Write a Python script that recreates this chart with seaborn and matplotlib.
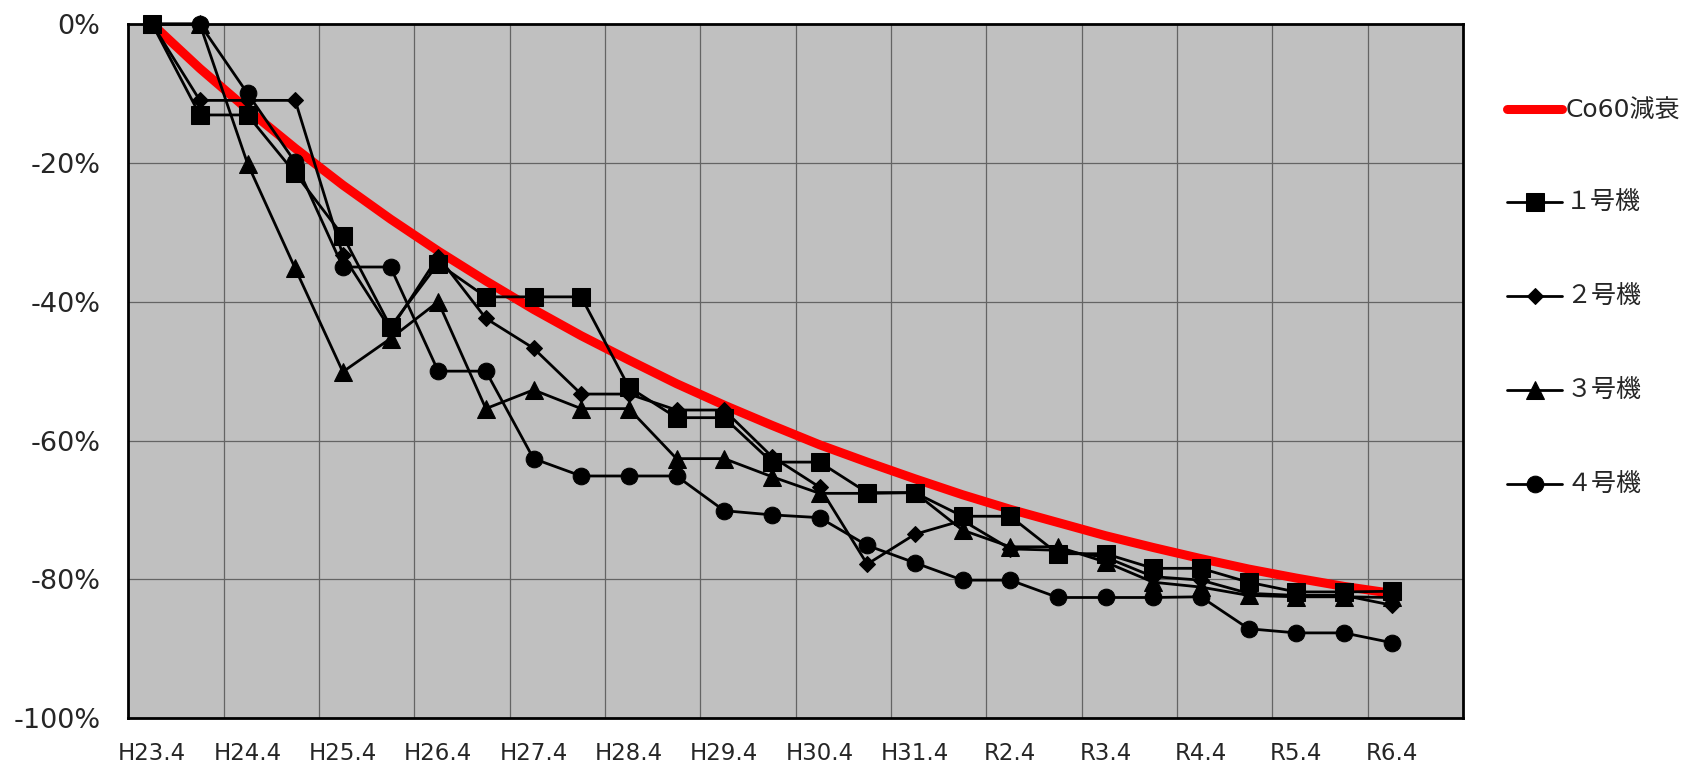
# Co60 decay vs. measured dose-rate reduction per unit
import numpy as np
import pandas as pd
import matplotlib
matplotlib.use("Agg")
import matplotlib.pyplot as plt
import seaborn as sns

# half-year steps from H23.4 to R6.4 (27 points, axis holds 28 slots)
periods = ["H23.4", "H23.10", "H24.4", "H24.10", "H25.4", "H25.10", "H26.4", "H26.10",
           "H27.4", "H27.10", "H28.4", "H28.10", "H29.4", "H29.10", "H30.4", "H30.10",
           "H31.4", "R1.10", "R2.4", "R2.10", "R3.4", "R3.10", "R4.4", "R4.10",
           "R5.4", "R5.10", "R6.4"]
tick_labels = ["H23.4", "H24.4", "H25.4", "H26.4", "H27.4", "H28.4", "H29.4",
               "H30.4", "H31.4", "R2.4", "R3.4", "R4.4", "R5.4", "R6.4"]
y_ticks = [0, -20, -40, -60, -80, -100]
y_tick_labels = ["0%", "-20%", "-40%", "-60%", "-80%", "-100%"]

co60 = [0, -6.4, -12.3, -17.9, -23.2, -28.1, -32.7, -37.0, -41.1, -44.9, -48.4, -51.8,
        -54.9, -57.8, -60.6, -63.1, -65.5, -67.8, -69.9, -71.8, -73.7, -75.4, -77.0,
        -78.5, -79.8, -81.0, -82.0]
unit1 = [0, -13.1, -13.1, -21.5, -30.5, -43.6, -34.5, -39.3, -39.3, -39.3, -52.3, -56.7,
         -56.7, -63.1, -63.1, -67.5, -67.5, -70.9, -70.9, -76.3, -76.3, -78.4, -78.4,
         -80.4, -81.8, -81.8, -81.7]
unit2 = [0, -11.0, -11.0, -11.0, -33.3, -44.0, -33.5, -42.4, -46.7, -53.3, -53.3, -55.6,
         -55.6, -62.3, -66.7, -77.8, -73.5, -71.5, -75.6, -75.8, -76.8, -79.6, -80.1,
         -82.0, -82.3, -82.3, -83.7]
unit3 = [0, 0, -20.1, -35.2, -50.1, -45.3, -40.0, -55.4, -52.7, -55.4, -55.4, -62.6,
         -62.6, -65.2, -67.6, -67.6, -67.5, -72.9, -75.3, -75.3, -77.5, -80.4, -81.1,
         -82.3, -82.5, -82.5, -82.6]
unit4 = [0, 0, -10.0, -19.9, -35.0, -35.0, -50.0, -50.0, -62.6, -65.1, -65.1, -65.1,
         -70.1, -70.7, -71.1, -75.1, -77.6, -80.1, -80.1, -82.6, -82.6, -82.6, -82.5,
         -87.1, -87.7, -87.7, -89.1]

labels = ["Co60減衰", "１号機", "２号機", "３号機", "４号機"]

df = pd.DataFrame({"period": periods, "Co60": co60, "u1": unit1, "u2": unit2,
                   "u3": unit3, "u4": unit4})
df["idx"] = range(len(df))

sns.set_style("white")
plt.rcParams["font.family"] = ["DejaVu Sans", "Noto Sans CJK JP"]

fig = plt.figure(figsize=(16.91, 7.67), dpi=100)
ax = fig.add_axes([0.0759, 0.0635, 0.7893, 0.9052])
ax.set_facecolor("#C0C0C0")

sns.lineplot(data=df, x="idx", y="Co60", ax=ax, color="red", linewidth=6.5,
             solid_capstyle="round", label=labels[0], zorder=2)
series = [("u1", "s", 12.5), ("u2", "D", 8.5), ("u3", "^", 12.5), ("u4", "o", 12)]
for (col, mk, ms), lab in zip(series, labels[1:]):
    sns.lineplot(data=df, x="idx", y=col, ax=ax, color="black", linewidth=2,
                 marker=mk, markersize=ms, markeredgecolor="black",
                 markerfacecolor="black", label=lab, clip_on=False, zorder=3)

ax.set_xlim(-0.5, 27.5)
ax.set_ylim(-100, 0)
ax.set_xticks(range(0, 27, 2))
ax.set_xticklabels(tick_labels, fontsize=16.5)
ax.set_xticks(np.arange(1.5, 27, 2), minor=True)
ax.set_yticks(y_ticks)
ax.set_yticklabels(y_tick_labels, fontsize=19.5)
ax.tick_params(axis="both", which="both", length=0)
ax.tick_params(axis="y", pad=20)
ax.tick_params(axis="x", pad=17)
ax.grid(True, which="minor", axis="x", color="#646464", linewidth=0.9)
ax.grid(True, which="major", axis="y", color="#646464", linewidth=0.9)
ax.set_axisbelow(True)
ax.set_xlabel("")
ax.set_ylabel("")
for sp in ax.spines.values():
    sp.set_visible(True)
    sp.set_color("black")
    sp.set_linewidth(2)

handles, labs = ax.get_legend_handles_labels()
leg = ax.legend(handles, labs, loc="upper left", bbox_to_anchor=(0.884, 0.888),
                bbox_transform=fig.transFigure, frameon=False, fontsize=18,
                handlelength=2.2, handletextpad=0.15, labelspacing=2.72, borderpad=0)
for t in leg.get_texts()[1:]:
    t.set_fontfamily(["Noto Sans CJK JP", "DejaVu Sans"])

fig.savefig("out.png", dpi=100)
